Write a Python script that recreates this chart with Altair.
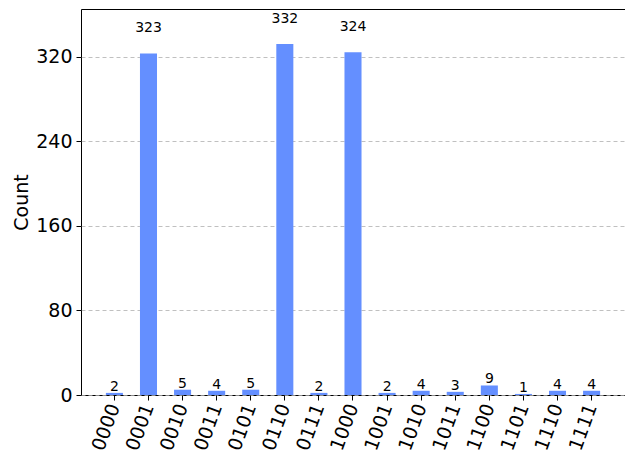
import altair as alt
import pandas as pd

states = ["0000", "0001", "0010", "0011", "0101", "0110", "0111", "1000",
          "1001", "1010", "1011", "1100", "1101", "1110", "1111"]
counts = [2, 323, 5, 4, 5, 332, 2, 324, 2, 4, 3, 9, 1, 4, 4]
y_ticks = [0, 80, 160, 240, 320]

df = pd.DataFrame({"state": states, "count": counts})

FONT = "DejaVu Sans"

x_enc = alt.X("state:N", sort=states,
              scale=alt.Scale(paddingInner=0.5, paddingOuter=0.73),
              axis=alt.Axis(title=None, labelAngle=-70, labelFontSize=19,
                            labelFont=FONT, labelColor="black",
                            labelAlign="right", labelBaseline="middle",
                            tickColor="black", tickSize=5, labelPadding=4,
                            domain=False, grid=False))
y_enc = alt.Y("count:Q", scale=alt.Scale(domain=[0, 365], nice=False),
              axis=alt.Axis(title="Count", titleFontSize=19, titleFont=FONT,
                            titleFontWeight="normal", titleColor="black",
                            values=y_ticks, labelFontSize=19, labelFont=FONT,
                            labelColor="black", tickColor="black", tickSize=5,
                            labelPadding=4,
                            domain=False, grid=True, gridDash=[4, 3],
                            gridColor="#b0b0b0", gridWidth=0.8, titlePadding=4))

base = alt.Chart(df).encode(x=x_enc, y=y_enc)

bars = base.mark_bar(color="#648fff")

text_big = base.transform_filter("datum.count > 100").mark_text(
    fontSize=14, font=FONT, color="black", baseline="middle", dy=-25
).encode(text="count:Q")

text_small = base.transform_filter("datum.count <= 100").mark_text(
    fontSize=14, font=FONT, color="black", baseline="bottom", dy=1
).encode(text="count:Q")

chart = alt.layer(bars, text_big, text_small).properties(
    width=544, height=386,
    background="white",
    autosize=alt.AutoSizeParams(type="none"),
    padding={"left": 73, "top": 1, "right": 0, "bottom": 70},
).configure_view(stroke="#000000", strokeWidth=1)

chart.save("out.html", embed_options={"renderer": "svg", "actions": False})
